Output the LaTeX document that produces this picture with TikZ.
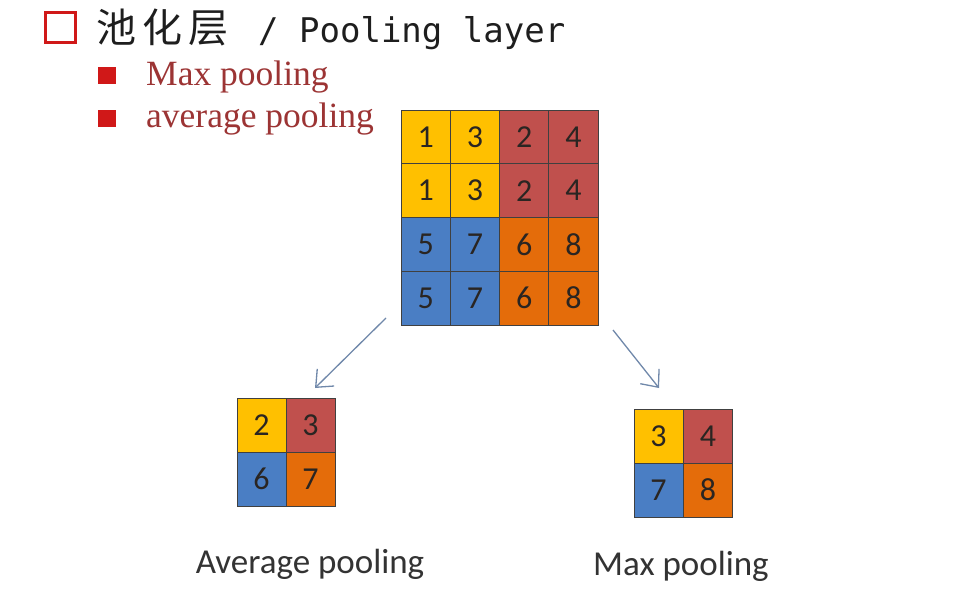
\documentclass[tikz,border=0pt]{standalone}
\usepackage{fontspec}
\setmainfont{Liberation Serif}
\newfontfamily\calib{Carlito}
\newfontfamily\cjkfont{Noto Sans CJK SC}
\newfontfamily\monofont{DejaVu Sans Mono}
\usetikzlibrary{arrows.meta}
\definecolor{cyel}{HTML}{FFC000}
\definecolor{cred}{HTML}{C0504D}
\definecolor{cblu}{HTML}{4A7EC4}
\definecolor{cora}{HTML}{E46C0A}
\definecolor{ttl}{HTML}{1E1E1E}
\definecolor{bul}{HTML}{D01818}
\definecolor{btx}{HTML}{9C3434}
\definecolor{arr}{HTML}{7088AA}
\definecolor{dig}{HTML}{2A2522}
\begin{document}
\begin{tikzpicture}[x=1pt,y=-1pt,
  cellbox/.style={draw=black!75,line width=0.8pt,inner sep=0pt,
    font=\calib\fontsize{32}{32}\selectfont,text=dig},
  bigcell/.style={cellbox,minimum width=49.25pt,minimum height=53.75pt},
  smallcell/.style={cellbox,minimum width=49pt,minimum height=54pt},
  flow/.style={draw=arr,line width=1.3pt,-{Straight Barb[length=14pt,width=24pt,line width=1.3pt]}},
  caption/.style={font=\calib\fontsize{35}{35}\selectfont,text=black!80},
  bultext/.style={anchor=west,font=\fontsize{35.5}{35.5}\selectfont,text=btx,inner sep=0pt}]
\useasboundingbox (0,0) rectangle (974,591);
\fill[white] (0,0) rectangle (974,591);
% title
\node[draw=bul,line width=3pt,minimum width=30pt,minimum height=30pt,inner sep=0pt] (tbox) at (60.5,27.5) {};
\node[anchor=west,inner sep=0pt,text=ttl] (title) at (96,29)
  {{\cjkfont\fontsize{40}{40}\selectfont 池\hspace{6pt}化\hspace{6pt}层}\hspace{30pt}{\monofont\fontsize{34}{34}\selectfont / Pooling layer}};
% bullets
\node[fill=bul,minimum width=18pt,minimum height=17pt,inner sep=0pt] (b1) at (107,76) {};
\node[fill=bul,minimum width=18pt,minimum height=17pt,inner sep=0pt] (b2) at (107,118.5) {};
\node[bultext] (t1) at (146,77) {Max pooling};
\node[bultext] (t2) at (146,119) {average pooling};
% big grid
\foreach \r/\a/\b/\c/\d/\ca/\cb in {1/1/3/2/4/cyel/cred,2/1/3/2/4/cyel/cred,3/5/7/6/8/cblu/cora,4/5/7/6/8/cblu/cora}{
  \node[bigcell,fill=\ca] (g\r-1) at ({401+24.625},{110+53.75*(\r-0.5)}) {\a};
  \node[bigcell,fill=\ca] (g\r-2) at ({401+49.25+24.625},{110+53.75*(\r-0.5)}) {\b};
  \node[bigcell,fill=\cb] (g\r-3) at ({401+98.5+24.625},{110+53.75*(\r-0.5)}) {\c};
  \node[bigcell,fill=\cb] (g\r-4) at ({401+147.75+24.625},{110+53.75*(\r-0.5)}) {\d};
}
% average grid
\node[smallcell,fill=cyel] (a1) at (261.5,425) {2};
\node[smallcell,fill=cred] (a2) at (310.5,425) {3};
\node[smallcell,fill=cblu] (a3) at (261.5,479) {6};
\node[smallcell,fill=cora] (a4) at (310.5,479) {7};
% max grid
\node[smallcell,fill=cyel] (m1) at (658.5,436) {3};
\node[smallcell,fill=cred] (m2) at (708,436) {4};
\node[smallcell,fill=cblu] (m3) at (658.5,490) {7};
\node[smallcell,fill=cora] (m4) at (708,490) {8};
% arrows
\coordinate (l0) at (386,318);
\coordinate (l1) at (315,388);
\coordinate (r0) at (613,330);
\coordinate (r1) at (659,388);
\draw[flow] (l0) -- (l1);
\draw[flow] (r0) -- (r1);
% captions
\node[caption] (ca) at (310,564) {Average pooling};
\node[caption] (cm) at (681,566) {Max pooling};
\end{tikzpicture}
\end{document}
